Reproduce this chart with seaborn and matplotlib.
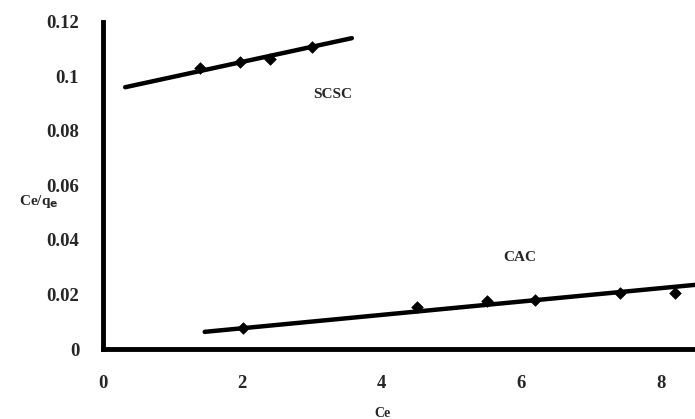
import numpy as np
import pandas as pd
import matplotlib
matplotlib.use('Agg')
import matplotlib.pyplot as plt
import seaborn as sns

# 数据
scsc_ce = [1.39, 1.96, 2.40, 3.00]
scsc_ratio = [0.1029, 0.1051, 0.1063, 0.1108]
cac_ce = [2.01, 4.50, 5.51, 6.20, 7.42, 8.20]
cac_ratio = [0.0078, 0.0155, 0.0175, 0.0180, 0.0205, 0.0205]

# 趋势线 (两端点，从图中读取)
scsc_trend_x = [0.32, 3.57]
scsc_trend_y = [0.0960, 0.1140]
cac_trend_x = [1.46, 8.6]
cac_trend_y = [0.0063, 0.0238]

x_ticks = [0, 2, 4, 6, 8]
y_ticks = [0, 0.02, 0.04, 0.06, 0.08, 0.1, 0.12]
y_ticklabels = ['0', '0.02', '0.04', '0.06', '0.08', '0.1', '0.12']

sns.set_style('white')
plt.rcParams['font.family'] = ['Liberation Serif', 'DejaVu Serif']
plt.rcParams['font.weight'] = 'bold'

df = pd.concat([
    pd.DataFrame({'Ce': scsc_ce, 'ratio': scsc_ratio, 'sample': 'SCSC'}),
    pd.DataFrame({'Ce': cac_ce, 'ratio': cac_ratio, 'sample': 'CAC'}),
])
trend = pd.concat([
    pd.DataFrame({'Ce': scsc_trend_x, 'ratio': scsc_trend_y, 'sample': 'SCSC'}),
    pd.DataFrame({'Ce': cac_trend_x, 'ratio': cac_trend_y, 'sample': 'CAC'}),
])

fig = plt.figure(figsize=(6.95, 4.19), dpi=100)
ax = fig.add_axes([0.148, 0.167, 0.852, 0.781])

# 线性趋势线
sns.lineplot(data=trend, x='Ce', y='ratio', units='sample', estimator=None,
             color='black', linewidth=3.2, legend=False, ax=ax, zorder=2)

sns.scatterplot(data=df, x='Ce', y='ratio', marker='D', color='black', s=35,
                edgecolor='black', legend=False, ax=ax, zorder=3)

ax.set_xlim(0, 8.49)
ax.set_ylim(0, 0.12)
ax.set_xticks(x_ticks)
ax.set_xticklabels([str(t) for t in x_ticks])
ax.set_yticks(y_ticks)
ax.set_yticklabels(y_ticklabels)
ax.tick_params(axis='both', direction='out', length=5, width=3, color='black',
               labelsize=13.5)
ax.tick_params(axis='x', pad=14)
ax.tick_params(axis='y', pad=12)
for lab in ax.get_xticklabels() + ax.get_yticklabels():
    lab.set_fontweight('bold')

for s in ['top', 'right']:
    ax.spines[s].set_visible(False)
for s in ['left', 'bottom']:
    ax.spines[s].set_linewidth(3.5)
    ax.spines[s].set_color('black')

ax.set_xlabel('')
ax.set_ylabel('')
fig.text(0.055, 0.518, 'Ce/q$_\\mathbf{e}$', fontsize=11, fontweight='bold',
         ha='center', va='center')
fig.text(0.55, 0.012, 'Ce', fontsize=10, fontweight='bold', ha='center', va='center')

ax.text(3.3, 0.0935, 'SCSC', fontsize=11, fontweight='bold', ha='center', va='center')
ax.text(5.98, 0.0335, 'CAC', fontsize=11, fontweight='bold', ha='center', va='center')

fig.savefig('out.png', dpi=100)
